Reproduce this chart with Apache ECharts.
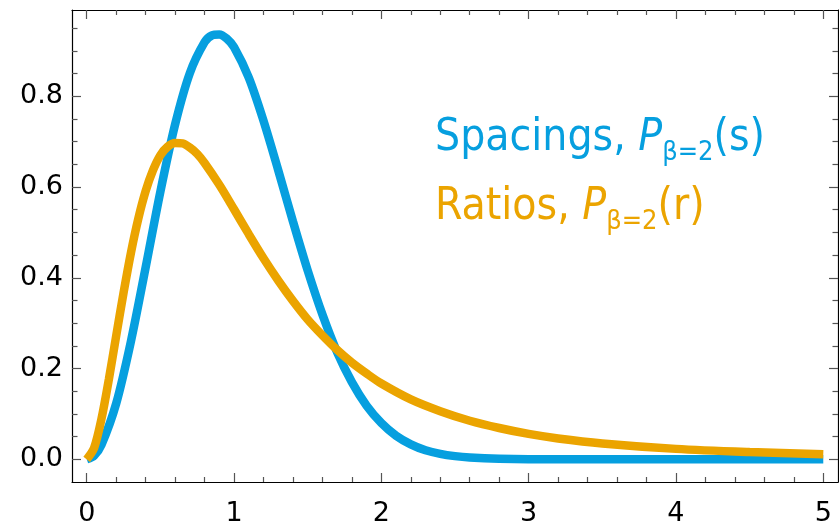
<!DOCTYPE html>
<html>
<head>
<meta charset="utf-8">
<script src="https://cdn.jsdelivr.net/npm/echarts@6/dist/echarts.min.js"></script>
<style>
  html, body { margin: 0; padding: 0; background: #fff; }
  #chart { width: 839px; height: 527px; }
</style>
</head>
<body>
<div id="chart"></div>
<script>
// values
const spacingX = [0, 0.05, 0.1, 0.2, 0.3, 0.4, 0.5, 0.6, 0.7, 0.8, 0.85, 0.9, 0.95, 1.0, 1.1, 1.2, 1.3, 1.4, 1.5, 1.6, 1.7, 1.8, 1.9, 2.0, 2.1, 2.2, 2.3, 2.4, 2.5, 2.6, 2.8, 3.0, 3.5, 4.0, 4.5, 5.0];
const spacingY = [0, 0.008, 0.032, 0.123, 0.260, 0.423, 0.590, 0.738, 0.851, 0.919, 0.934, 0.936, 0.927, 0.908, 0.841, 0.746, 0.637, 0.524, 0.416, 0.319, 0.236, 0.170, 0.118, 0.080, 0.052, 0.033, 0.020, 0.012, 0.007, 0.004, 0.001, 0, 0, 0, 0, 0];

const ratioX = [0, 0.05, 0.1, 0.15, 0.2, 0.25, 0.3, 0.35, 0.4, 0.45, 0.5, 0.55, 0.6, 0.65, 0.7, 0.75, 0.8, 0.9, 1.0, 1.1, 1.2, 1.3, 1.4, 1.5, 1.6, 1.7, 1.8, 1.9, 2.0, 2.2, 2.4, 2.6, 2.8, 3.0, 3.2, 3.5, 4.0, 4.5, 5.0];
const ratioY = [0, 0.025, 0.089, 0.176, 0.272, 0.367, 0.455, 0.530, 0.591, 0.637, 0.670, 0.689, 0.697, 0.696, 0.687, 0.673, 0.653, 0.605, 0.551, 0.496, 0.443, 0.394, 0.349, 0.308, 0.273, 0.241, 0.213, 0.189, 0.167, 0.132, 0.106, 0.085, 0.069, 0.056, 0.046, 0.035, 0.023, 0.016, 0.011];

const xMajor = [0, 1, 2, 3, 4, 5];
const xMinor = [0.2, 0.4, 0.6, 0.8, 1.2, 1.4, 1.6, 1.8, 2.2, 2.4, 2.6, 2.8, 3.2, 3.4, 3.6, 3.8, 4.2, 4.4, 4.6, 4.8];
const yMajor = [0, 0.2, 0.4, 0.6, 0.8];
const yMinor = [0.05, 0.1, 0.15, 0.25, 0.3, 0.35, 0.45, 0.5, 0.55, 0.65, 0.7, 0.75, 0.85, 0.9, 0.95];

const BLUE = '#069fdf';
const ORANGE = '#eba400';
const TICK_FONT = 'DejaVu Sans';
const LEGEND_FONT = 'DejaVu Sans Condensed, Noto Sans';

const chart = echarts.init(document.getElementById('chart'), null, { renderer: 'canvas' });

function xAxisOf(pos, ticks, len, withLine, withLabel) {
  return {
    type: 'value', position: pos, min: -0.1, max: 5.1,
    axisLine: { show: withLine, onZero: false, lineStyle: { color: '#000', width: 1.2 } },
    axisTick: { show: true, inside: true, length: len, customValues: ticks, lineStyle: { color: '#555', width: 1.2 } },
    axisLabel: {
      show: withLabel, customValues: ticks, margin: 18,
      fontFamily: TICK_FONT, fontSize: 27, color: '#000',
      formatter: v => String(v),
    },
    splitLine: { show: false },
    minorTick: { show: false },
  };
}

function yAxisOf(pos, ticks, len, withLine, withLabel) {
  return {
    type: 'value', position: pos, min: -0.05, max: 0.99,
    axisLine: { show: withLine, onZero: false, lineStyle: { color: '#000', width: 1.2 } },
    axisTick: { show: true, inside: true, length: len, customValues: ticks, lineStyle: { color: '#555', width: 1.2 } },
    axisLabel: {
      show: withLabel, customValues: ticks, margin: 9,
      fontFamily: TICK_FONT, fontSize: 27, color: '#000',
      formatter: v => v.toFixed(1),
    },
    splitLine: { show: false },
    minorTick: { show: false },
  };
}

function legendText(top, color, name, arg) {
  return {
    type: 'text', left: 435, top: top,
    style: {
      text: '{n|' + name + ', }{p|P}{s|β=2}{n|(' + arg + ')}',
      fill: color,
      rich: {
        n: { fontFamily: LEGEND_FONT, fontSize: 44, lineHeight: 54, color: color },
        p: { fontFamily: LEGEND_FONT, fontSize: 44, lineHeight: 54, fontStyle: 'italic', color: color },
        s: { fontFamily: LEGEND_FONT, fontSize: 27, lineHeight: 24, verticalAlign: 'bottom', color: color },
      },
    },
  };
}

chart.setOption({
  animation: false,
  backgroundColor: '#fff',
  grid: { left: 72, right: 1, top: 10, bottom: 43, containLabel: false },
  xAxis: [
    xAxisOf('bottom', xMajor, 9, true, true),
    xAxisOf('bottom', xMinor, 5, false, false),
    xAxisOf('top', xMajor, 9, true, false),
    xAxisOf('top', xMinor, 5, false, false),
  ],
  yAxis: [
    yAxisOf('left', yMajor, 9, true, true),
    yAxisOf('left', yMinor, 5.5, false, false),
    yAxisOf('right', yMajor, 9, true, false),
    yAxisOf('right', yMinor, 5.5, false, false),
  ],
  series: [
    {
      name: 'Spacings', type: 'line', xAxisIndex: 0, yAxisIndex: 0,
      data: spacingX.map((x, i) => [x, spacingY[i]]),
      smooth: 0.3, showSymbol: false, symbol: 'none',
      lineStyle: { color: BLUE, width: 8.5, cap: 'butt' },
    },
    {
      name: 'Ratios', type: 'line', xAxisIndex: 0, yAxisIndex: 0,
      data: ratioX.map((x, i) => [x, ratioY[i]]),
      smooth: 0.3, showSymbol: false, symbol: 'none',
      lineStyle: { color: ORANGE, width: 8.5, cap: 'butt' },
    },
  ],
  graphic: [
    legendText(117, BLUE, 'Spacings', 's'),
    legendText(186, ORANGE, 'Ratios', 'r'),
  ],
});
</script>
</body>
</html>
